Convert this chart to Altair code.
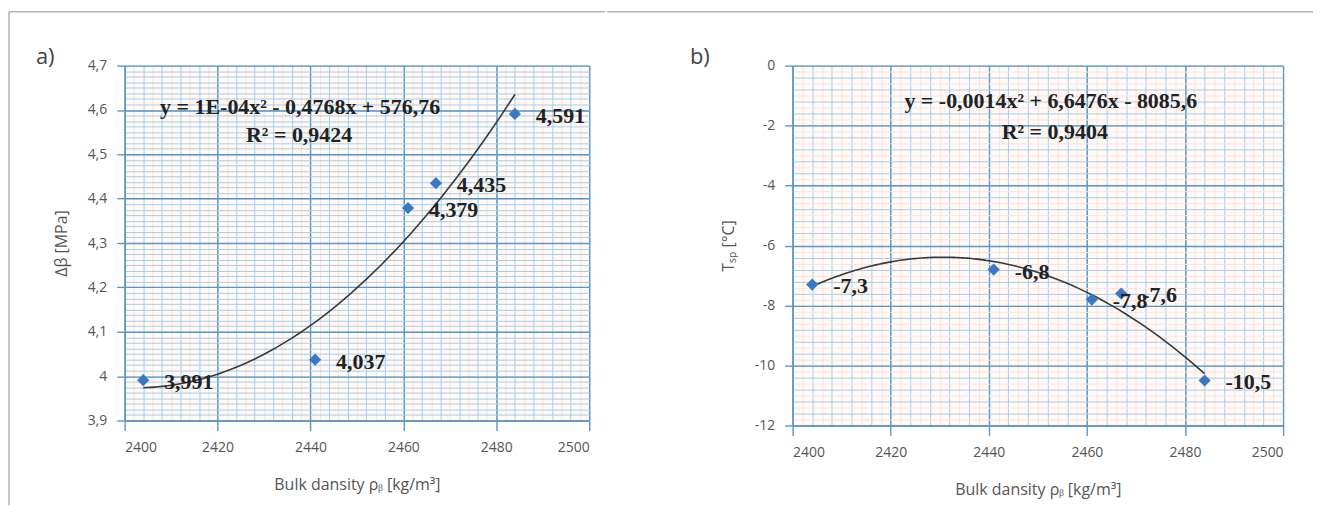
import altair as alt
import pandas as pd

# ---- data ----
density = [2404, 2441, 2461, 2467, 2484]
delta_beta = [3.991, 4.037, 4.379, 4.435, 4.591]
t_sp = [-7.3, -6.8, -7.8, -7.6, -10.5]

# ---- axis tick settings ----
x_major = [2400, 2420, 2440, 2460, 2480, 2500]
x_minor = [2400 + 4 * i for i in range(26)]
x_fine = [2402 + 4 * i for i in range(25)]

ya_major = [3.9, 4.0, 4.1, 4.2, 4.3, 4.4, 4.5, 4.6, 4.7]
ya_minor = [round(3.9 + 0.0125 * i, 4) for i in range(65)]
ya_fine = []

yb_major = [-12, -10, -8, -6, -4, -2, 0]
yb_minor = [round(-12 + 0.4 * i, 2) for i in range(31)]
yb_fine = [round(-11.8 + 0.4 * i, 2) for i in range(30)]

eq_a = ["y = 1E-04x² - 0,4768x + 576,76", "R² = 0,9424"]
eq_b = ["y = -0,0014x² + 6,6476x - 8085,6", "R² = 0,9404"]

MAJOR = "#5b97c4"
MINOR = "#a9cde6"
FINE = "#f8e4da"
FRAME = "#b4b4b4"
LABEL_FONT = "Open Sans"
SERIF = "Liberation Serif"

one = pd.DataFrame({"k": [0]})


def panel(yvals, ydom, y_major, y_minor, y_fine, ytitle, tag, tag_pos, eq, eq_pos,
          w, h, frame_top, frame_left):
    df = pd.DataFrame({"x": density, "y": yvals})
    base = alt.Chart(df)
    xs = alt.Scale(domain=[2400, 2500], nice=False, zero=False)
    ys = alt.Scale(domain=ydom, nice=False, zero=False)

    def grid_layer(xv, yv, color, width):
        return base.mark_point(opacity=0).encode(
            x=alt.X("x:Q", scale=xs, axis=alt.Axis(
                values=xv, grid=True, gridColor=color, gridWidth=width,
                labels=False, ticks=False, domain=False, title=None, orient="bottom")),
            y=alt.Y("y:Q", scale=ys, axis=alt.Axis(
                values=yv, grid=True, gridColor=color, gridWidth=width,
                labels=False, ticks=False, domain=False, title=None, orient="left")),
        )

    layers = []
    if y_fine or x_fine:
        layers.append(grid_layer(x_fine, y_fine, FINE, 1))
    layers.append(grid_layer(x_minor, y_minor, MINOR, 1))

    major = base.mark_point(opacity=0).encode(
        x=alt.X("x:Q", scale=xs, axis=alt.Axis(
            values=x_major, grid=True, gridColor=MAJOR, gridWidth=1.4,
            ticks=True, tickColor=MAJOR, tickSize=10, tickWidth=1.4,
            domain=True, domainColor=MAJOR, domainWidth=1.4,
            labelExpr="'' + datum.value", labelFont=LABEL_FONT, labelFontSize=14,
            labelColor="#555", labelPadding=10,
            title="Bulk dansity ρᵦ [kg/m³]", titleFont=LABEL_FONT, titleFontSize=16,
            titleColor="#555", titleFontWeight="normal", titlePadding=22, orient="bottom")),
        y=alt.Y("y:Q", scale=ys, axis=alt.Axis(
            values=y_major, grid=True, gridColor=MAJOR, gridWidth=1.4,
            ticks=True, tickColor=MAJOR, tickSize=8, tickWidth=1.4,
            domain=True, domainColor=MAJOR, domainWidth=1.4,
            labelExpr="replace('' + datum.value, '.', ',')", labelFont=LABEL_FONT,
            labelFontSize=14, labelColor="#555", labelPadding=10,
            title=ytitle, titleFont=LABEL_FONT, titleFontSize=16, titleColor="#555",
            titleFontWeight="normal", titlePadding=18, orient="left")),
    )
    layers.append(major)

    trend = base.transform_regression("x", "y", method="poly", order=2).mark_line(
        color="#383838", strokeWidth=1.6
    ).encode(x=alt.X("x:Q", scale=xs, axis=None), y=alt.Y("y:Q", scale=ys, axis=None))

    pts = base.mark_point(shape="diamond", filled=True, size=150, color="#3a78c4", opacity=1).encode(
        x=alt.X("x:Q", scale=xs, axis=None), y=alt.Y("y:Q", scale=ys, axis=None))

    lbl = base.transform_calculate(
        lbl="replace('' + datum.y, '.', ',')"
    ).mark_text(align="left", baseline="middle", dx=21, dy=2, font=SERIF,
                fontWeight="bold", fontSize=22, color="#222").encode(
        x=alt.X("x:Q", scale=xs, axis=None), y=alt.Y("y:Q", scale=ys, axis=None),
        text="lbl:N")

    layers += [trend, pts, lbl]

    for (txt, (px, py)) in zip(eq, eq_pos):
        layers.append(
            alt.Chart(pd.DataFrame({"t": [txt]})).mark_text(
                align="center", baseline="middle", font=SERIF, fontWeight="bold",
                fontSize=22, color="#222"
            ).encode(x=alt.value(px), y=alt.value(py), text="t:N")
        )

    # panel tag a) / b)
    layers.append(
        alt.Chart(pd.DataFrame({"t": [tag]})).mark_text(
            align="left", baseline="middle", font=LABEL_FONT, fontSize=22, color="#444"
        ).encode(x=alt.value(tag_pos[0]), y=alt.value(tag_pos[1]), text="t:N")
    )

    # thin gray page frame (top, and left on the first panel)
    fx1, fx2, fy = frame_top
    layers.append(
        alt.Chart(one).mark_rule(color=FRAME, strokeWidth=1.5).encode(
            x=alt.value(fx1), x2=alt.value(fx2), y=alt.value(fy))
    )
    if frame_left is not None:
        lx, ly1, ly2 = frame_left
        layers.append(
            alt.Chart(one).mark_rule(color=FRAME, strokeWidth=1.5).encode(
                x=alt.value(lx), y=alt.value(ly1), y2=alt.value(ly2))
        )

    return alt.layer(*layers).resolve_axis(x="independent", y="independent").properties(
        width=w, height=h)


left = panel(delta_beta, [3.9, 4.7], ya_major, ya_minor, ya_fine, "Δβ [MPa]", "a)", (-89, -9),
             eq_a, [(176, 42), (175, 70)], 466, 356,
             frame_top=(-116, 482, -54), frame_left=(-116, -54, 441))
right = panel(t_sp, [-12, 0], yb_major, yb_minor, yb_fine, "Tₛₚ [°C]", "b)", (-103, -9),
              eq_b, [(259, 36), (263, 67)], 492, 361,
              frame_top=(-186, 522, -54), frame_left=None)

chart = alt.hconcat(left, right, spacing=0).properties(
    padding={"left": 0, "top": 2, "right": 0, "bottom": 0}
).configure_view(strokeWidth=0, fill="#fffaf7")

chart.save("out.html", embed_options={"renderer": "svg", "actions": False})
